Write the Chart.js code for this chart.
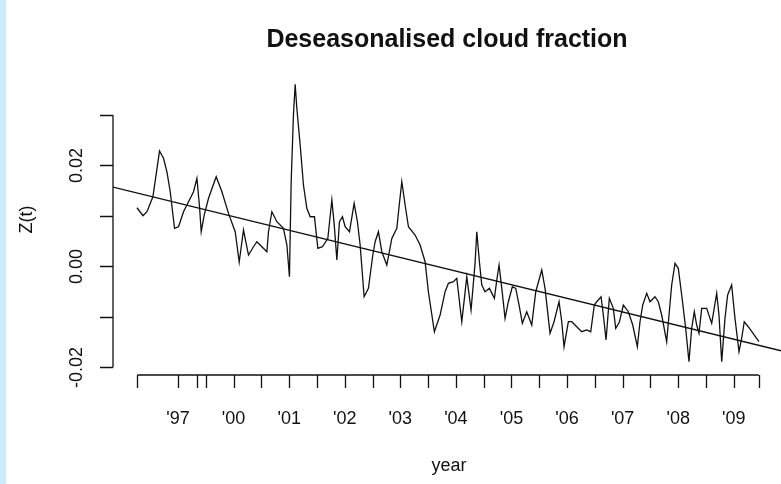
<!DOCTYPE html>
<html>
<head>
<meta charset="utf-8">
<script src="https://cdn.jsdelivr.net/npm/chart.js@4.4.1/dist/chart.umd.min.js"></script>
<style>
    html, body { margin: 0; padding: 0; background: #fff; }
    #wrap { width: 781px; height: 484px; position: relative; }
</style>
</head>
<body>
<div id="wrap"><canvas id="cloudChart" width="781" height="484"></canvas></div>
<script>
// deseasonalised series (decimal year on the plot's own axis)
const years = [
    1998.261, 1998.369, 1998.441, 1998.548, 1998.667, 1998.739, 1998.800, 1998.860, 1998.937, 1999.009,
    1999.099, 1999.189, 1999.279, 1999.340, 1999.387, 1999.417, 1999.471, 1999.549, 1999.687, 1999.790,
    1999.908, 2000.029, 2000.101, 2000.178, 2000.268, 2000.358, 2000.419, 2000.509, 2000.599, 2000.628,
    2000.689, 2000.779, 2000.897, 2000.959, 2001.005, 2001.036, 2001.077, 2001.108, 2001.138, 2001.198,
    2001.257, 2001.318, 2001.378, 2001.455, 2001.516, 2001.599, 2001.696, 2001.768, 2001.809, 2001.858,
    2001.905, 2001.959, 2002.007, 2002.085, 2002.169, 2002.228, 2002.277, 2002.349, 2002.426, 2002.505,
    2002.547, 2002.606, 2002.667, 2002.757, 2002.847, 2002.937, 2002.984, 2003.027, 2003.086, 2003.146,
    2003.266, 2003.356, 2003.446, 2003.505, 2003.613, 2003.716, 2003.806, 2003.865, 2003.955, 2004.016,
    2004.106, 2004.153, 2004.196, 2004.273, 2004.345, 2004.376, 2004.423, 2004.466, 2004.525, 2004.603,
    2004.693, 2004.736, 2004.777, 2004.826, 2004.885, 2004.944, 2005.016, 2005.077, 2005.137, 2005.196,
    2005.275, 2005.365, 2005.437, 2005.545, 2005.604, 2005.694, 2005.766, 2005.856, 2005.905, 2005.946,
    2006.024, 2006.085, 2006.264, 2006.354, 2006.426, 2006.491, 2006.534, 2006.612, 2006.653, 2006.702,
    2006.761, 2006.833, 2006.876, 2006.941, 2007.013, 2007.103, 2007.182, 2007.265, 2007.313, 2007.362,
    2007.434, 2007.493, 2007.583, 2007.642, 2007.703, 2007.793, 2007.835, 2007.883, 2007.943, 2008.002,
    2008.063, 2008.135, 2008.194, 2008.243, 2008.290, 2008.333, 2008.374, 2008.423, 2008.513, 2008.603,
    2008.693, 2008.734, 2008.783, 2008.842, 2008.890, 2008.962, 2009.022, 2009.094, 2009.142, 2009.189,
    2009.261, 2009.453
];
const zValues = [
    0.01162, 0.01004, 0.01083, 0.0138, 0.02285, 0.02141, 0.01875, 0.01479, 0.00754, 0.00786,
    0.01083, 0.01281, 0.01479, 0.01745, 0.01182, 0.00687, 0.01018, 0.01349, 0.01776, 0.01479,
    0.01051, 0.00687, 0.00087, 0.00721, 0.00226, 0.0039, 0.00489, 0.0039, 0.00291, 0.00687,
    0.01083, 0.00885, 0.00754, 0.00424, -0.00204, 0.01677, 0.02998, 0.03606, 0.03131, 0.02404,
    0.01612, 0.0115, 0.00984, 0.00984, 0.00358, 0.0039, 0.00556, 0.01315, 0.00853, 0.00127,
    0.00885, 0.00984, 0.00786, 0.00687, 0.0125, 0.00885, 0.00424, -0.006, -0.00434, 0.00226,
    0.00489, 0.00687, 0.00291, 0.00028, 0.00556, 0.00754, 0.0125, 0.01677, 0.01216, 0.00786,
    0.00622, 0.00424, 0.00093, -0.00501, -0.01293, -0.00962, -0.00501, -0.00335, -0.00303, -0.00236,
    -0.01095, -0.00632, -0.00204, -0.00863, 0.00061, 0.00687, 0.00093, -0.00368, -0.00501, -0.00434,
    -0.00632, -0.00269, 0.00028, -0.00434, -0.01028, -0.00699, -0.00402, -0.00434, -0.00764, -0.01127,
    -0.00897, -0.0116, -0.00501, -0.00071, -0.00434, -0.01325, -0.01095, -0.00699, -0.01095, -0.0159,
    -0.01095, -0.01095, -0.01293, -0.01259, -0.01293, -0.00764, -0.00699, -0.006, -0.00962, -0.01457,
    -0.00632, -0.0083, -0.01226, -0.01107, -0.00764, -0.00897, -0.0116, -0.0159, -0.01095, -0.00764,
    -0.00533, -0.00699, -0.006, -0.00699, -0.00962, -0.01491, -0.00962, -0.00368, 0.00061, -0.00038,
    -0.00566, -0.01226, -0.01887, -0.01226, -0.00897, -0.0116, -0.01325, -0.0083, -0.0083, -0.01127,
    -0.00533, -0.00962, -0.01887, -0.01028, -0.00566, -0.00368, -0.01028, -0.01689, -0.01424, -0.01095,
    -0.01194, -0.01491
];

// fitted linear trend, end points
const trendYears = [1997.83, 2009.85];
const trendValues = [0.0157, -0.0167];

// axes
const yTicks = [-0.02, -0.01, 0, 0.01, 0.02, 0.03];
const yTickLabels = ['-0.02', '', '0.00', '', '0.02', ''];
const xTicks = [1998.27, 1999, 1999.35, 1999.5, 2000, 2000.5, 2001, 2001.5, 2002, 2002.5, 2003, 2003.5,
    2004, 2004.5, 2005, 2005.5, 2006, 2006.5, 2007, 2007.5, 2008, 2008.5, 2009, 2009.45];
const xTickLabels = ['', "'97", '', '', "'00", '', "'01", '', "'02", '', "'03", '',
    "'04", '', "'05", '', "'06", '', "'07", '', "'08", '', "'09", ''];

const FONT = '"Liberation Sans", Arial, sans-serif';
const INK = '#111';

// R-style axes: line only between first and last tick, ticks pointing outward
const rAxes = {
    id: 'rAxes',
    beforeDraw(chart) {
        const ctx = chart.ctx;
        ctx.save();
        ctx.fillStyle = '#fff';
        ctx.fillRect(0, 0, chart.width, chart.height);
        ctx.fillStyle = '#cdeafd';
        ctx.fillRect(0, 0, 6, chart.height);
        ctx.restore();
    },
    afterDraw(chart) {
        const ctx = chart.ctx;
        const xs = chart.scales.x;
        const ys = chart.scales.y;
        const area = chart.chartArea;
        ctx.save();
        ctx.strokeStyle = INK;
        ctx.fillStyle = INK;
        ctx.lineWidth = 1.3;

        // y axis
        const ax = area.left;
        ctx.beginPath();
        ctx.moveTo(ax, ys.getPixelForValue(yTicks[0]));
        ctx.lineTo(ax, ys.getPixelForValue(yTicks[yTicks.length - 1]));
        yTicks.forEach(v => {
            const py = Math.round(ys.getPixelForValue(v)) + 0.5;
            ctx.moveTo(ax, py);
            ctx.lineTo(ax - 13, py);
        });
        ctx.stroke();
        ctx.font = '18px ' + FONT;
        ctx.textAlign = 'center';
        ctx.textBaseline = 'middle';
        yTicks.forEach((v, i) => {
            if (!yTickLabels[i]) return;
            ctx.save();
            ctx.translate(77, ys.getPixelForValue(v));
            ctx.rotate(-Math.PI / 2);
            ctx.fillText(yTickLabels[i], 0, 0);
            ctx.restore();
        });

        // x axis
        const ay = area.bottom;
        ctx.beginPath();
        ctx.moveTo(xs.getPixelForValue(xTicks[0]), ay);
        ctx.lineTo(xs.getPixelForValue(xTicks[xTicks.length - 1]), ay);
        xTicks.forEach(v => {
            const px = Math.round(xs.getPixelForValue(v)) + 0.5;
            ctx.moveTo(px, ay);
            ctx.lineTo(px, ay + 13);
        });
        ctx.stroke();
        xTicks.forEach((v, i) => {
            if (xTickLabels[i]) ctx.fillText(xTickLabels[i], xs.getPixelForValue(v), ay + 44);
        });

        // titles
        ctx.fillText('year', (area.left + area.right) / 2 + 2, 466);
        ctx.save();
        ctx.translate(27, (area.top + area.bottom) / 2 - 4);
        ctx.rotate(-Math.PI / 2);
        ctx.fillText('Z(t)', 0, 0);
        ctx.restore();
        ctx.font = 'bold 25px ' + FONT;
        ctx.fillText('Deseasonalised cloud fraction', 447, 40);
        ctx.restore();
    }
};

const ctx = document.getElementById('cloudChart').getContext('2d');
new Chart(ctx, {
    type: 'line',
    data: {
        datasets: [
            {
                label: 'Z(t)',
                data: years.map((x, i) => ({ x: x, y: zValues[i] })),
                borderColor: INK,
                borderWidth: 1.3,
                pointRadius: 0,
                tension: 0
            },
            {
                label: 'trend',
                data: trendYears.map((x, i) => ({ x: x, y: trendValues[i] })),
                borderColor: INK,
                borderWidth: 1.3,
                pointRadius: 0
            }
        ]
    },
    options: {
        responsive: false,
        animation: false,
        layout: { padding: { left: 113, top: 72, right: 0, bottom: 109 } },
        scales: {
            x: { type: 'linear', min: 1997.83, max: 2009.85, display: false },
            y: { min: -0.0215, max: 0.0385, display: false }
        },
        plugins: {
            legend: { display: false },
            tooltip: { enabled: false },
            title: { display: false }
        }
    },
    plugins: [rAxes]
});
</script>
</body>
</html>
